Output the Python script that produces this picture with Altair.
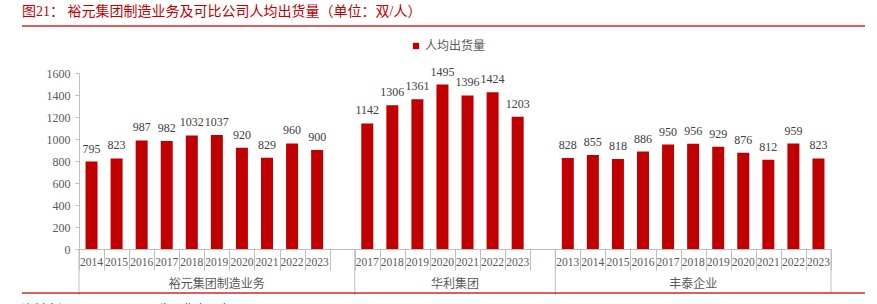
import altair as alt
import pandas as pd

# ---- data ----
groups = ["裕元集团制造业务", "华利集团", "丰泰企业"]
yuen_years = ["2014", "2015", "2016", "2017", "2018", "2019", "2020", "2021", "2022", "2023"]
yuen_values = [795, 823, 987, 982, 1032, 1037, 920, 829, 960, 900]
huali_years = ["2017", "2018", "2019", "2020", "2021", "2022", "2023"]
huali_values = [1142, 1306, 1361, 1495, 1396, 1424, 1203]
fengtai_years = ["2013", "2014", "2015", "2016", "2017", "2018", "2019", "2020", "2021", "2022", "2023"]
fengtai_values = [828, 855, 818, 886, 950, 956, 929, 876, 812, 959, 823]
series_name = "人均出货量"
title_text = "图21：  裕元集团制造业务及可比公司人均出货量（单位：双/人）"
source_text = "资料来源：Wind，公司公告，华泰研究"
y_ticks = [0, 200, 400, 600, 800, 1000, 1200, 1400, 1600]

BAR = "#C00000"
GREY = "#BFBFBF"
TXT = "#595959"
RED_LINE = "#D02A2A"
SERIF = "Liberation Serif, Noto Sans CJK SC"
CJK = "Noto Sans CJK SC"

rows = []
keys = []
group_info = []
all_sets = [(groups[0], yuen_years, yuen_values),
            (groups[1], huali_years, huali_values),
            (groups[2], fengtai_years, fengtai_values)]
for gi, (g, yrs, vals) in enumerate(all_sets):
    gkeys = []
    for y, v in zip(yrs, vals):
        k = f"{g}|{y}"
        rows.append({"key": k, "year": y, "value": v, "group": g, "series": series_name})
        gkeys.append(k)
    if gi < len(all_sets) - 1:
        k = f"{g}|_"
        gkeys.append(k)
    keys.extend(gkeys)
    group_info.append((g, gkeys))

df = pd.DataFrame(rows)

# group label positions: middle slot of each group
odd_rows, even_rows, start_rows = [], [], []
for g, gkeys in group_info:
    n = len(gkeys)
    if n % 2 == 1:
        odd_rows.append({"key": gkeys[n // 2], "label": g})
    else:
        even_rows.append({"key": gkeys[n // 2], "label": g})
    start_rows.append({"key": gkeys[0]})
end_rows = [{"key": keys[-1]}]

xscale = alt.Scale(domain=keys, paddingInner=0, paddingOuter=0)
x_axis = alt.Axis(labels=False, title=None, tickBand="extent", tickSize=21,
                  tickColor=GREY, domainColor=GREY, tickWidth=1, domainWidth=1)
x_enc = alt.X("key:N", scale=xscale, axis=x_axis)
x_plain = alt.X("key:N", scale=xscale, axis=x_axis)

yscale = alt.Scale(domain=[0, 1600], nice=False)
y_axis = alt.Axis(values=y_ticks, title=None, grid=False, tickSize=4, labelPadding=5,
                  format="d", labelOverlap=False, tickCount=9, labelBound=False,
                  labelFont=SERIF, labelFontSize=12, labelColor=TXT,
                  domainColor=GREY, tickColor=GREY)
y_enc = alt.Y("value:Q", scale=yscale, axis=y_axis)

base = alt.Chart(df)

bars = base.mark_bar(width=12).encode(
    x=x_enc,
    y=y_enc,
    color=alt.Color("series:N", scale=alt.Scale(range=[BAR]),
                    legend=alt.Legend(orient="none", legendX=331, legendY=-33, title=None,
                                      symbolType="square", symbolSize=40, padding=0,
                                      labelFont=CJK, labelFontSize=12, labelColor=TXT,
                                      labelOffset=3)),
)

values = base.mark_text(baseline="bottom", dy=-6, font=SERIF, fontSize=12, color="#404040").encode(
    x=x_plain, y=y_enc, text=alt.Text("value:Q"))

years = base.mark_text(baseline="middle", font=SERIF, fontSize=11.5, color=TXT).encode(
    x=x_plain, y=alt.value(190), text="year:N")

glab_odd = alt.Chart(pd.DataFrame(odd_rows)).mark_text(
    baseline="middle", font=CJK, fontSize=12, color=TXT).encode(
    x=x_plain, y=alt.value(211), text="label:N")
glab_even = alt.Chart(pd.DataFrame(even_rows)).mark_text(
    baseline="middle", font=CJK, fontSize=12, color=TXT).encode(
    x=alt.X("key:N", scale=xscale, axis=x_axis, bandPosition=0), y=alt.value(211), text="label:N")

grp_start = alt.Chart(pd.DataFrame(start_rows)).mark_rule(color=GREY, strokeWidth=1).encode(
    x=alt.X("key:N", scale=xscale, axis=x_axis, bandPosition=0), y=alt.value(176), y2=alt.value(222))
grp_end = alt.Chart(pd.DataFrame(end_rows)).mark_rule(color=GREY, strokeWidth=1).encode(
    x=alt.X("key:N", scale=xscale, axis=x_axis, bandPosition=1), y=alt.value(176), y2=alt.value(220))

top_line = alt.Chart(pd.DataFrame({"a": [0]})).mark_rule(color=RED_LINE, strokeWidth=1.5).encode(
    x=alt.value(-57), x2=alt.value(786), y=alt.value(-47))
bot_line = alt.Chart(pd.DataFrame({"a": [0]})).mark_rule(color=RED_LINE, strokeWidth=1.5).encode(
    x=alt.value(-57), x2=alt.value(786), y=alt.value(220))

title = alt.Chart(pd.DataFrame({"t": [title_text]})).mark_text(
    align="left", baseline="middle", font=SERIF, fontSize=14, color=BAR).encode(
    x=alt.value(-57), y=alt.value(-61), text="t:N")

source = alt.Chart(pd.DataFrame({"t": [source_text]})).mark_text(
    align="left", baseline="top", font=CJK, fontSize=12, color="#333333").encode(
    x=alt.value(-57), y=alt.value(232), text="t:N")

chart = alt.layer(bars, values, years, glab_odd, glab_even, grp_start, grp_end,
                  top_line, bot_line, title, source).properties(
    width=752, height=176,
    autosize=alt.AutoSizeParams(type="none"),
    padding={"left": 79, "top": 73, "right": 46, "bottom": 55},
).configure_view(stroke=None)

chart.save("out.html", embed_options={"renderer": "svg", "actions": False})
